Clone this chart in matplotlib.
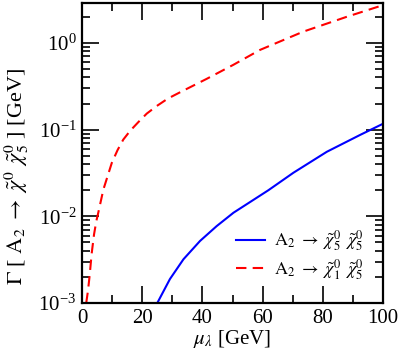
import numpy as np
import matplotlib
matplotlib.use("Agg")
import matplotlib.pyplot as plt
from matplotlib.ticker import LogLocator, MultipleLocator

plt.rcParams["font.family"] = ["Liberation Serif", "DejaVu Serif"]
plt.rcParams["mathtext.fontset"] = "stix"

# ── Data ────────────────────────────────────────────────────────────────────
# A2 -> chi5 chi5 (solid blue)
mu_55 = [25.0, 29.2, 33.7, 39.2, 44.7, 50.3, 55.8, 61.9, 70.2, 81.3, 92.4, 100]
gam_55 = [0.001, 0.00189, 0.0032, 0.0052, 0.0077, 0.011, 0.0146, 0.0200, 0.0318,
          0.0555, 0.0870, 0.117]
# A2 -> chi1 chi5 (dashed red)
mu_15 = [1.4, 2.0, 2.55, 3.2, 4.0, 4.75, 5.4, 7.1, 9.9, 11.8, 13.7, 16.0, 18.7,
         21.5, 24.8, 28.5, 32.6, 41.4, 50.3, 59.1, 73.5, 87.9, 100]
gam_15 = [0.001, 0.0014, 0.0021, 0.0037, 0.0062, 0.0088, 0.011, 0.0204, 0.0414,
          0.058, 0.0767, 0.097, 0.122, 0.153, 0.187, 0.228, 0.27, 0.385, 0.56,
          0.83, 1.35, 2.0, 2.73]

lab_55 = r"$\mathrm{A}_2\ \rightarrow\ \tilde{\chi}^0_5\ \,\tilde{\chi}^0_5$"
lab_15 = r"$\mathrm{A}_2\ \rightarrow\ \tilde{\chi}^0_1\ \,\tilde{\chi}^0_5$"

fig = plt.figure(figsize=(4.02, 3.54), dpi=100)
ax = fig.add_axes([0.204, 0.144, 0.749, 0.848])

ax.plot(mu_55, gam_55, color="#0000ff", lw=1.5, label=lab_55)
ax.plot(mu_15, gam_15, color="#ff0000", lw=1.5, dashes=(5, 3), label=lab_15)

ax.set_yscale("log")
ax.set_xlim(0, 100)
ax.set_ylim(1e-3, 2.9)
ax.xaxis.set_major_locator(MultipleLocator(20))
ax.xaxis.set_minor_locator(MultipleLocator(10))
ax.yaxis.set_major_locator(LogLocator(base=10, numticks=10))
ax.yaxis.set_minor_locator(LogLocator(base=10, subs=np.arange(2, 10), numticks=20))

ax.tick_params(which="both", direction="in", top=True, right=True, width=1.2, labelsize=15)
ax.tick_params(which="major", length=12, pad=4)
ax.tick_params(which="minor", length=6)
for s in ax.spines.values():
    s.set_linewidth(1.6)

ax.set_xlabel(r"$\mu_\lambda$ [GeV]", fontsize=15, labelpad=0)
ax.set_ylabel(r"$\Gamma$ [ $\mathrm{A}_2\ \rightarrow\ \tilde{\chi}^0\ \,\tilde{\chi}^0_5$ ] [GeV]",
              fontsize=16)
ax.yaxis.set_label_coords(-0.17, 0.42)

ax.legend(loc="lower left", frameon=False, fontsize=13, handlelength=1.6,
          bbox_to_anchor=(0.512, 0.07), borderaxespad=0, borderpad=0,
          labelspacing=0.2, handletextpad=0.5)

fig.savefig("out.png", dpi=100)
